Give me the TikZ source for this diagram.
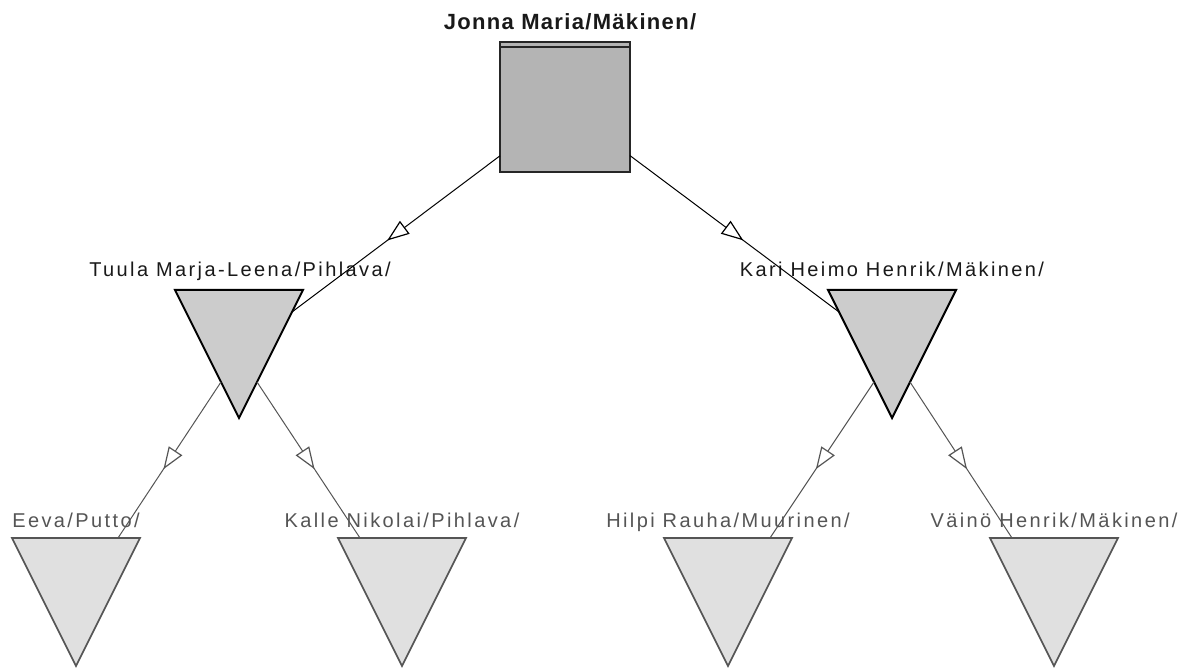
\documentclass[tikz,border=0pt]{standalone}
\usepackage{fontspec}
\setmainfont{Liberation Sans}
\newfontfamily\lblfont{Liberation Sans}[LetterSpace=12]
\newfontfamily\ttlfont{Liberation Sans}[LetterSpace=6]
\usetikzlibrary{shapes.geometric,arrows.meta,decorations.markings}
\definecolor{rootgray}{HTML}{B4B4B4}
\definecolor{gentwogray}{HTML}{CCCCCC}
\definecolor{genthreegray}{HTML}{E0E0E0}
\definecolor{genthreeline}{HTML}{555555}
\definecolor{lblthree}{HTML}{555555}
\tikzset{
  rootbox/.style={draw=black!85, line width=2pt, fill=rootgray, minimum width=130pt, minimum height=130pt, inner sep=0pt, outer sep=0pt},
  tri/.style={isosceles triangle, isosceles triangle stretches, shape border rotate=270, minimum width=128pt, minimum height=128pt, inner sep=0pt, outer sep=0pt},
  gentwo/.style={tri, draw=black, line width=2pt, fill=gentwogray},
  genthree/.style={tri, draw=genthreeline, line width=1.6pt, fill=genthreegray},
  lbltwo/.style={font=\lblfont\fontsize{20}{24}\selectfont, text=black!90, inner sep=0pt, anchor=base},
  lblthr/.style={font=\lblfont\fontsize{20}{24}\selectfont, text=lblthree, inner sep=0pt, anchor=base},
  ttl/.style={font=\ttlfont\bfseries\fontsize{22}{26}\selectfont, text=black!90, inner sep=0pt, anchor=base},
  edgeone/.style={draw=black, line width=1pt, decoration={markings, mark=at position 0.5 with {\pgftransformxshift{11pt}\arrow{Triangle[length=22pt,width=16pt,fill=white,line width=1.2pt]}}}, postaction=decorate},
  edgetwo/.style={draw=genthreeline, line width=1pt, decoration={markings, mark=at position 0.5 with {\pgftransformxshift{11pt}\arrow{Triangle[length=22pt,width=16pt,fill=white,line width=1.2pt]}}}, postaction=decorate}
}
\begin{document}
\begin{tikzpicture}[x=1pt,y=-1pt]
\fill[white] (0,0) rectangle (1194,668);
\useasboundingbox (0,0) rectangle (1194,668);
% shapes
\node[rootbox] (jonna) at (565,107) {};
\draw[black!85, line width=1.5pt] ([yshift=-5pt]jonna.north west) -- ([yshift=-5pt]jonna.north east);
\node[gentwo, anchor=apex] (tuula) at (239,418) {};
\node[gentwo, anchor=apex] (kari) at (892,418) {};
\node[genthree, anchor=apex] (eeva) at (76,666) {};
\node[genthree, anchor=apex] (kalle) at (402,666) {};
\node[genthree, anchor=apex] (hilpi) at (728,666) {};
\node[genthree, anchor=apex] (vaino) at (1054,666) {};
% labels
\node[ttl] (jonnaL) at (570,30) {Jonna Maria/Mäkinen/};
\node[lbltwo] (tuulaL) at (240,277) {Tuula Marja-Leena/Pihlava/};
\node[lbltwo] (kariL) at (892,277) {Kari Heimo Henrik/Mäkinen/};
\node[lblthr] (eevaL) at (76,527) {Eeva/Putto/};
\node[lblthr] (kalleL) at (402,527) {Kalle Nikolai/Pihlava/};
\node[lblthr] (hilpiL) at (728,527) {Hilpi Rauha/Muurinen/};
\node[lblthr] (vainoL) at (1054,527) {Väinö Henrik/Mäkinen/};
% edges (end points lie on the triangles' borders)
\draw[edgeone] (jonna) -- ([shift={(53,-106)}]tuula.apex);
\draw[edgeone] (jonna) -- ([shift={(-53,-106)}]kari.apex);
\draw[edgetwo] ([shift={(-18,-36)}]tuula.apex) -- ([shift={(42,-128)}]eeva.apex);
\draw[edgetwo] ([shift={(18,-36)}]tuula.apex) -- ([shift={(-42,-128)}]kalle.apex);
\draw[edgetwo] ([shift={(-18,-36)}]kari.apex) -- ([shift={(42,-128)}]hilpi.apex);
\draw[edgetwo] ([shift={(18,-36)}]kari.apex) -- ([shift={(-42,-128)}]vaino.apex);
\end{tikzpicture}
\end{document}
